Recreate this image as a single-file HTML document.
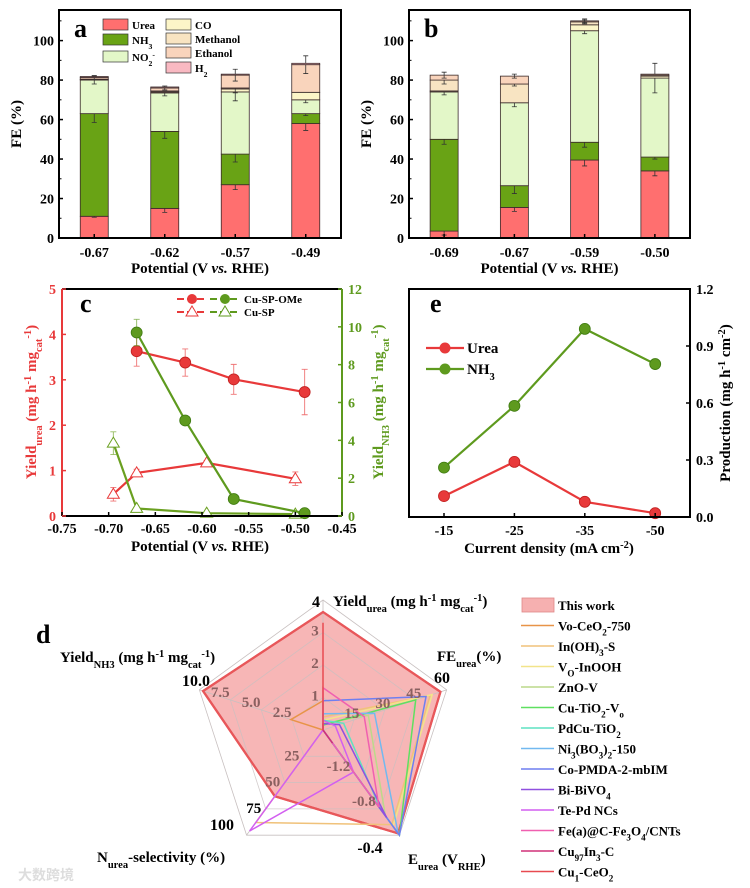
<!DOCTYPE html>
<html><head><meta charset="utf-8"><style>
html,body{margin:0;padding:0;background:#fff;}
svg{display:block;font-family:"Liberation Serif",serif;font-weight:bold;}
</style></head><body>
<svg id="fig" width="750" height="888" viewBox="0 0 750 888" xmlns="http://www.w3.org/2000/svg">
<g id="gA"></g>
<g id="gB"></g>
<g id="gC"></g>
<g id="gE"></g>
<g id="gD"></g>
<text x="18" y="880" font-size="14" fill="#ddd" font-family="'Liberation Sans','Noto Sans CJK SC',sans-serif">大数跨境</text>
</svg>
<script>
// ---------- Panel a / b data ----------
const catsA = ["-0.67","-0.62","-0.57","-0.49"];
const ureaA = [11,15,27,58];
const nh3A = [52,39,15.5,5];
const no2A = [17,19.5,31.5,7];
const coA = [0.3,0.5,1.5,3.8];
const methA = [0.2,0.5,0.5,0];
const ethA = [0.8,1.5,6.5,14];
const h2A = [0.5,0.5,0.5,0.7];
const errA = [[0.5,2,2.5,3.5],[4.5,3.5,4,1],[2,1.5,4.5,1.5],[0,0,0,0],[0,0,2.5,0],[1,1,3,4.5],[0,0,0,0]];
const catsB = ["-0.69","-0.67","-0.59","-0.50"];
const ureaB = [3.5,15.5,39.5,34];
const nh3B = [46.5,11,9,7];
const no2B = [24,42,56.5,40];
const coB = [0.5,0,3,1];
const methB = [5.5,9.5,1.5,0.5];
const ethB = [2.5,4,0.5,0.5];
const h2B = [0,0,0,0];
const errB = [[2,2,3,2.5],[2.5,4,2.5,1],[1.5,2,1.5,7.5],[0,0,0,0],[2,1,1,0],[1.5,1,1,0],[0,0,0,0]];
const stackNames = ["Urea","NH3","NO2","CO","Methanol","Ethanol","H2"];
const stackColors = ["#ff6f6f","#69a315","#e3f7c8","#fcf5c8","#f8e4c2","#f9d4bc","#f9b9c2"];
const yTicksFE = [0,20,40,60,80,100];

// ---------- Panel c data ----------
const xTicksC = [-0.75,-0.70,-0.65,-0.60,-0.55,-0.50,-0.45];
const yTicksCL = [0,1,2,3,4,5];
const yTicksCR = [0,2,4,6,8,10,12];
const xOMe = [-0.67,-0.618,-0.566,-0.49];
const ureaOMe = [3.63,3.38,3.01,2.73];
const ureaOMeErr = [0.33,0.3,0.33,0.5];
const nh3OMe = [9.7,5.05,0.9,0.15];
const nh3OMeErr = [0.7,0,0,0];
const xSP = [-0.695,-0.67,-0.595,-0.5];
const ureaSP = [0.48,0.95,1.17,0.82];
const ureaSPErr = [0.15,0.08,0.05,0.15];
const nh3SP = [3.85,0.4,0.15,0.1];
const nh3SPErr = [0.6,0,0,0];

// ---------- Panel e data ----------
const catsE = ["-15","-25","-35","-50"];
const ureaE = [0.11,0.29,0.08,0.02];
const nh3E = [0.26,0.585,0.99,0.805];
const yTicksE = [0.0,0.3,0.6,0.9,1.2];

// ---------- Panel d data ----------
const radarThisWork = [3.63,57,-0.42,63,9.7];
const radarNames = ["Vo-CeO2-750","In(OH)3-S","VO-InOOH","ZnO-V","Cu-TiO2-Vo","PdCu-TiO2","Ni3(BO3)2-150","Co-PMDA-2-mbIM","Bi-BiVO4","Te-Pd NCs","Fe(a)@C-Fe3O4/CNTs","Cu97In3-C","Cu1-CeO2"];
const radarColors = ["#e89448","#f0c27a","#f2e48a","#bcd98a","#5fe060","#5fe2c2","#72b9f0","#6f7ff0","#9050e0","#d25ff0","#f060b0","#d03078","#e84a50"];
const radarVals = [
 [0.9,0,-1.6,0,2.6],
 [0.4,52,-0.52,88,0],
 [0.3,53,-0.5,0,0],
 [0.2,22,-0.62,0,0],
 [0.15,45,-0.4,0,0],
 [0.3,10,-0.7,0,0],
 [0.5,25,-0.42,0,0],
 [0.9,50,-0.4,0,0],
 [0.2,8,-0.6,0,0],
 [0.3,6,-1.12,96,0],
 [1.3,20,-0.72,0,0],
 [0.2,0,-1.45,0,0],
 [3.3,0,-1.6,0,0]
];

const NS="http://www.w3.org/2000/svg";
function el(parent,tag,attrs,text){const e=document.createElementNS(NS,tag);for(const k in attrs)e.setAttribute(k,attrs[k]);if(text!==undefined)e.textContent=text;parent.appendChild(e);return e;}
function rich(parent,x,y,parts,attrs){const t=el(parent,'text',Object.assign({x:x,y:y},attrs||{}));
 parts.forEach(p=>{const s=el(t,'tspan',{});s.textContent=p[0];if(p[1]==='sub'){s.setAttribute('baseline-shift','sub');s.setAttribute('font-size','70%');}else if(p[1]==='sup'){s.setAttribute('baseline-shift','super');s.setAttribute('font-size','70%');}else if(p[1]==='i'){s.setAttribute('font-style','italic');}});return t;}

function barPanel(g,x0,x1,cats,series,errs,label,legend){
 const yT=10,yB=238,ymax=115.5;
 const y=v=>yB-v/ymax*(yB-yT);
 const bw=(x1-x0)/cats.length;
 const xc=i=>x0+bw*(i+0.5);
 cats.forEach((c,i)=>{
  let cum=0;
  series.forEach((s,k)=>{
   const v=s[i];
   if(v>0){
    const r=el(g,'rect',{x:xc(i)-14,y:y(cum+v),width:28,height:y(cum)-y(cum+v),fill:stackColors[k],stroke:"#3a2a2a","stroke-width":0.8});
    
    
   }
   cum+=v;
   const e=errs[k][i];
   if(e>0){
    const eb=el(g,'path',{d:`M${xc(i)},${y(cum-e)}V${y(cum+e)}M${xc(i)-2.5},${y(cum-e)}h5M${xc(i)-2.5},${y(cum+e)}h5`,stroke:"#333","stroke-width":0.8,fill:"none"});
    
    
   }
  });
  const tl=el(g,'text',{x:xc(i),y:y(0)+19,"text-anchor":"middle","font-size":14},c);
  
  
  el(g,'line',{x1:xc(i),x2:xc(i),y1:yB,y2:yB-4,stroke:"#000","stroke-width":1.5});
 });
 yTicksFE.forEach(t=>{
  const tl=el(g,'text',{x:x0-5,y:y(t)+5,"text-anchor":"end","font-size":14},String(t));
  
  
  el(g,'line',{x1:x0,x2:x0+4,y1:y(t),y2:y(t),stroke:"#000","stroke-width":1.5});
  el(g,'line',{x1:x0,x2:x0+2.5,y1:y(t+10),y2:y(t+10),stroke:"#000","stroke-width":1});
 });
 const box=el(g,'rect',{x:x0,y:yT,width:x1-x0,height:yB-yT,fill:"none",stroke:"#000","stroke-width":2});
 
 
 const pl=el(g,'text',{x:x0+15,y:37,"font-size":26},label);
 
 
 const yl=el(g,'text',{x:0,y:0,"font-size":15,transform:`translate(${x0-38},${(yT+yB)/2}) rotate(-90)`,"text-anchor":"middle"},"FE (%)");
 
 
 const xl=rich(g,(x0+x1)/2,273,[["Potential (V "],["vs.",'i'],[" RHE)"]],{"text-anchor":"middle","font-size":15});
 
 
 if(legend){
  const items=[[0,103,25,[["Urea"]]],[1,103,40,[["NH"],["3",'sub']]],[2,103,57,[["NO"],["2",'sub'],["-",'sup']]],[3,166,25,[["CO"]]],[4,166,39,[["Methanol"]]],[5,166,53,[["Ethanol"]]],[6,166,68,[["H"],["2",'sub']]]];
  items.forEach(it=>{
   const sw=el(g,'rect',{x:it[1],y:it[2]-6,width:25,height:11,fill:stackColors[it[0]],stroke:"#333","stroke-width":0.7});
   
   
   const lt=rich(g,it[1]+29,it[2]+4,it[3],{"font-size":11});
   
   
  });
 }
}
barPanel(document.getElementById('gA'),59,341,catsA,[ureaA,nh3A,no2A,coA,methA,ethA,h2A],errA,"a",true);
barPanel(document.getElementById('gB'),409,690,catsB,[ureaB,nh3B,no2B,coB,methB,ethB,h2B],errB,"b",false);

(function(){
 const g=document.getElementById('gC');
 const X0=62,X1=342,YT=289,YB=516;
 const RED="#e8393a",GRN="#5e9a1e";
 const x=v=>X0+(v+0.75)/0.3*(X1-X0);
 const yl=v=>YB-v/5*(YB-YT);
 const yr=v=>YB-v/12*(YB-YT);
 function series(xs,ys,errs,yf,col,marker,name){
  const pts=xs.map((v,i)=>x(v)+","+yf(ys[i])).join(" ");
  const ln=el(g,'polyline',{points:pts,fill:"none",stroke:col,"stroke-width":2.2});
  
  
  xs.forEach((v,i)=>{
   if(errs[i]>0){
    const px=x(v);
    el(g,'path',{d:`M${px},${yf(ys[i]-errs[i])}V${yf(ys[i]+errs[i])}M${px-3},${yf(ys[i]-errs[i])}h6M${px-3},${yf(ys[i]+errs[i])}h6`,stroke:col,"stroke-width":0.9,fill:"none",opacity:0.7});
   }
   let m;
   if(marker==='c'){m=el(g,'circle',{cx:x(v),cy:yf(ys[i]),r:5.5,fill:col,stroke:col==RED?"#c02020":"#3e7a10","stroke-width":0.8});}
   else{const px=x(v),py=yf(ys[i]);m=el(g,'path',{d:`M${px},${py-6}L${px+6},${py+4}L${px-6},${py+4}Z`,fill:"#fff",stroke:col,"stroke-width":1});}
   
   
  });
 }
 series(xSP,ureaSP,ureaSPErr,yl,RED,'t','urea-cu-sp');
 series(xOMe,ureaOMe,ureaOMeErr,yl,RED,'c','urea-cu-sp-ome');
 series(xSP,nh3SP,nh3SPErr,yr,"#6aa020",'t','nh3-cu-sp');
 series(xOMe,nh3OMe,nh3OMeErr,yr,"#5e9a1e",'c','nh3-cu-sp-ome');
 el(g,'line',{x1:X0,x2:X1,y1:YT,y2:YT,stroke:"#000","stroke-width":2});
 el(g,'line',{x1:X0,x2:X1,y1:YB,y2:YB,stroke:"#000","stroke-width":2});
 el(g,'line',{x1:X0,x2:X0,y1:YT,y2:YB,stroke:RED,"stroke-width":2});
 el(g,'line',{x1:X1,x2:X1,y1:YT,y2:YB,stroke:GRN,"stroke-width":2});
 xTicksC.forEach(t=>{
  el(g,'line',{x1:x(t),x2:x(t),y1:YB,y2:YB-4,stroke:"#000","stroke-width":1.5});
  const tl=el(g,'text',{x:x(t),y:YB+17,"text-anchor":"middle","font-size":14},t.toFixed(2));
  
  
 });
 yTicksCL.forEach(t=>{
  el(g,'line',{x1:X0,x2:X0+4,y1:yl(t),y2:yl(t),stroke:RED,"stroke-width":1.5});
  const tl=el(g,'text',{x:X0-6,y:yl(t)+5,"text-anchor":"end","font-size":14,fill:RED},String(t));
  
  
 });
 yTicksCR.forEach(t=>{
  el(g,'line',{x1:X1,x2:X1-4,y1:yr(t),y2:yr(t),stroke:GRN,"stroke-width":1.5});
  const tl=el(g,'text',{x:X1+6,y:yr(t)+5,"font-size":14,fill:GRN},String(t));
  
  
 });
 const pl=el(g,'text',{x:80,y:312,"font-size":26},"c");
 
 
 const t1=rich(g,0,0,[["Yield"],["urea",'sub'],[" (mg h"],["-1",'sup'],[" mg"],["cat",'sub'],["-1",'sup'],[")"]],{"font-size":15,fill:RED,"text-anchor":"middle",transform:"translate(36,402) rotate(-90)"});
 
 
 const t2=rich(g,0,0,[["Yield"],["NH3",'sub'],[" (mg h"],["-1",'sup'],[" mg"],["cat",'sub'],["-1",'sup'],[")"]],{"font-size":15,fill:GRN,"text-anchor":"middle",transform:"translate(383,402) rotate(-90)"});
 
 
 const xl=rich(g,200,551,[["Potential (V "],["vs.",'i'],[" RHE)"]],{"text-anchor":"middle","font-size":15});
 
 
 [[299,'c',"Cu-SP-OMe"],[312,'t',"Cu-SP"]].forEach(r=>{
  [[177,RED],[210,GRN]].forEach(s=>{
   el(g,'line',{x1:s[0],x2:s[0]+30,y1:r[0],y2:r[0],stroke:s[1],"stroke-width":2,"stroke-dasharray":"7,3"});
   const cx=s[0]+15;
   if(r[1]==='c')el(g,'circle',{cx:cx,cy:r[0],r:5,fill:s[1]});
   else el(g,'path',{d:`M${cx},${r[0]-6}L${cx+6},${r[0]+4}L${cx-6},${r[0]+4}Z`,fill:"#fff",stroke:s[1]});
  });
  const lt=el(g,'text',{x:244,y:r[0]+4,"font-size":11},r[2]);
  
  
 });
})();

(function(){
 const g=document.getElementById('gE');
 const X0=409,X1=690,YT=289,YB=517;
 const x=i=>444+i*70.4;
 const y=v=>YB-v/1.2*(YB-YT);
 function series(vals,col,dark,name){
  const ln=el(g,'polyline',{points:vals.map((v,i)=>x(i)+","+y(v)).join(" "),fill:"none",stroke:col,"stroke-width":2.2});
  
  
  vals.forEach((v,i)=>{
   const c=el(g,'circle',{cx:x(i),cy:y(v),r:5.5,fill:col,stroke:dark,"stroke-width":0.8});
   
   
  });
 }
 series(nh3E,"#5e9a1e","#3e7a10",'nh3');
 series(ureaE,"#e8393a","#c02020",'urea');
 el(g,'rect',{x:X0,y:YT,width:X1-X0,height:YB-YT,fill:"none",stroke:"#000","stroke-width":2});
 catsE.forEach((c,i)=>{
  el(g,'line',{x1:x(i),x2:x(i),y1:YB,y2:YB-4,stroke:"#000","stroke-width":1.5});
  const tl=el(g,'text',{x:x(i),y:YB+18,"text-anchor":"middle","font-size":14},c);
  
  
 });
 yTicksE.forEach(t=>{
  el(g,'line',{x1:X1,x2:X1-4,y1:y(t),y2:y(t),stroke:"#000","stroke-width":1.5});
  const tl=el(g,'text',{x:X1+6,y:y(t)+5,"font-size":14},t.toFixed(1));
  
  
 });
 const pl=el(g,'text',{x:430,y:312,"font-size":26},"e");
 
 
 [[348,"#e8393a",[["Urea"]]],[369,"#5e9a1e",[["NH"],["3",'sub']]]].forEach(r=>{
  el(g,'line',{x1:426,x2:464,y1:r[0],y2:r[0],stroke:r[1],"stroke-width":2.2});
  el(g,'circle',{cx:445,cy:r[0],r:5.5,fill:r[1]});
  const lt=rich(g,467,r[0]+5,r[2],{"font-size":15});
  
  
 });
 const xl=rich(g,549,553,[["Current density (mA cm"],["-2",'sup'],[")"]],{"text-anchor":"middle","font-size":15});
 
 
 const yl=rich(g,0,0,[["Production (mg h"],["-1",'sup'],[" cm"],["-2",'sup'],[")"]],{"font-size":15,"text-anchor":"middle",transform:"translate(730,403) rotate(-90)"});
 
 
})();

(function(){
 const g=document.getElementById('gD');
 const CX=323,CY=730,R=130;
 const ang=[-90,-18,54,126,198].map(a=>a*Math.PI/180);
 const norm=[v=>v/4,v=>v/60,v=>(v+1.6)/1.2,v=>v/100,v=>v/10];
 const pt=(k,f)=>[CX+R*f*Math.cos(ang[k]),CY+R*f*Math.sin(ang[k])];
 const poly=vals=>vals.map((v,k)=>pt(k,Math.max(0,norm[k](v))).join(",")).join(" ");
 const tw=el(g,'polygon',{points:poly(radarThisWork),fill:"#f6a9a9","fill-opacity":0.85,stroke:"#e8575a","stroke-width":2.2});
 
 
 [0.25,0.5,0.75,1].forEach(f=>{
  el(g,'polygon',{points:[0,1,2,3,4].map(k=>pt(k,f).join(",")).join(" "),fill:"none",stroke:"#c8c0c0","stroke-width":0.8,opacity:f==1?1:0.8});
 });
 [0,1,2,3,4].forEach(k=>{const p=pt(k,1);el(g,'line',{x1:CX,y1:CY,x2:p[0],y2:p[1],stroke:"#c8c0c0","stroke-width":0.8});});
 el(g,'polygon',{points:poly(radarThisWork),fill:"none",stroke:"#e8575a","stroke-width":2.2});
 radarVals.forEach((vals,j)=>{
  const p=el(g,'polygon',{points:poly(vals),fill:"none",stroke:radarColors[j],"stroke-width":1.5});
  
  
 });
 const inner=[[0,["1","2","3"],-8,3],[1,["15","30","45"],-2,-2],[2,["-1.2","-0.8",""],-10,6],[3,["25","50","75"],-12,4],[4,["2.5","5.0","7.5"],-10,-3]];
 inner.forEach(a=>{
  a[1].forEach((s,i)=>{
   if(!s)return;
   let f=(i+1)*0.25;
   if(a[0]==2)f=(i+1)*0.333;
   const p=pt(a[0],f);
   const col=(a[0]==3&&i==2)?"#000":"#8a6060";
   const t=el(g,'text',{x:p[0]+a[2],y:p[1]+a[3],"text-anchor":"middle","font-size":15,fill:col},s);
   
   
  });
 });
 [["4",316,607],["60",442,683],["-0.4",370,853],["100",222,830],["10.0",196,686]].forEach(o=>{
  const t=el(g,'text',{x:o[1],y:o[2],"text-anchor":"middle","font-size":16},o[0]);
  
  
 });
 const titles=[
  [333,606,[["Yield"],["urea",'sub'],[" (mg h"],["-1",'sup'],[" mg"],["cat",'sub'],["-1",'sup'],[")"]]],
  [437,661,[["FE"],["urea",'sub'],["(%)"]]],
  [408,864,[["E"],["urea",'sub'],[" (V"],["RHE",'sub'],[")"]]],
  [97,862,[["N"],["urea",'sub'],["-selectivity (%)"]]],
  [60,662,[["Yield"],["NH3",'sub'],[" (mg h"],["-1",'sup'],[" mg"],["cat",'sub'],["-1",'sup'],[")"]]]
 ];
 titles.forEach(tt=>{
  const t=rich(g,tt[0],tt[1],tt[2],{"font-size":15});
  
  
 });
 const pl=el(g,'text',{x:36,y:643,"font-size":26},"d");
 
 
 const legText=[[["This work"]],[["Vo-CeO"],["2",'sub'],["-750"]],[["In(OH)"],["3",'sub'],["-S"]],[["V"],["O",'sub'],["-InOOH"]],[["ZnO-V"]],[["Cu-TiO"],["2",'sub'],["-V"],["o",'sub']],[["PdCu-TiO"],["2",'sub']],[["Ni"],["3",'sub'],["(BO"],["3",'sub'],[")"],["2",'sub'],["-150"]],[["Co-PMDA-2-mbIM"]],[["Bi-BiVO"],["4",'sub']],[["Te-Pd NCs"]],[["Fe(a)@C-Fe"],["3",'sub'],["O"],["4",'sub'],["/CNTs"]],[["Cu"],["97",'sub'],["In"],["3",'sub'],["-C"]],[["Cu"],["1",'sub'],["-CeO"],["2",'sub']]];
 legText.forEach((parts,i)=>{
  const yy=605+i*20.5;
  if(i==0){el(g,'rect',{x:522,y:yy-7,width:32,height:14,fill:"#f6b0b0",stroke:"#e08888","stroke-width":0.8});}
  else{el(g,'line',{x1:521,x2:554,y1:yy,y2:yy,stroke:radarColors[i-1],"stroke-width":1.5});}
  const t=rich(g,558,yy+5,parts,{"font-size":13});
  
  
 });
})();
</script>
</body></html>
